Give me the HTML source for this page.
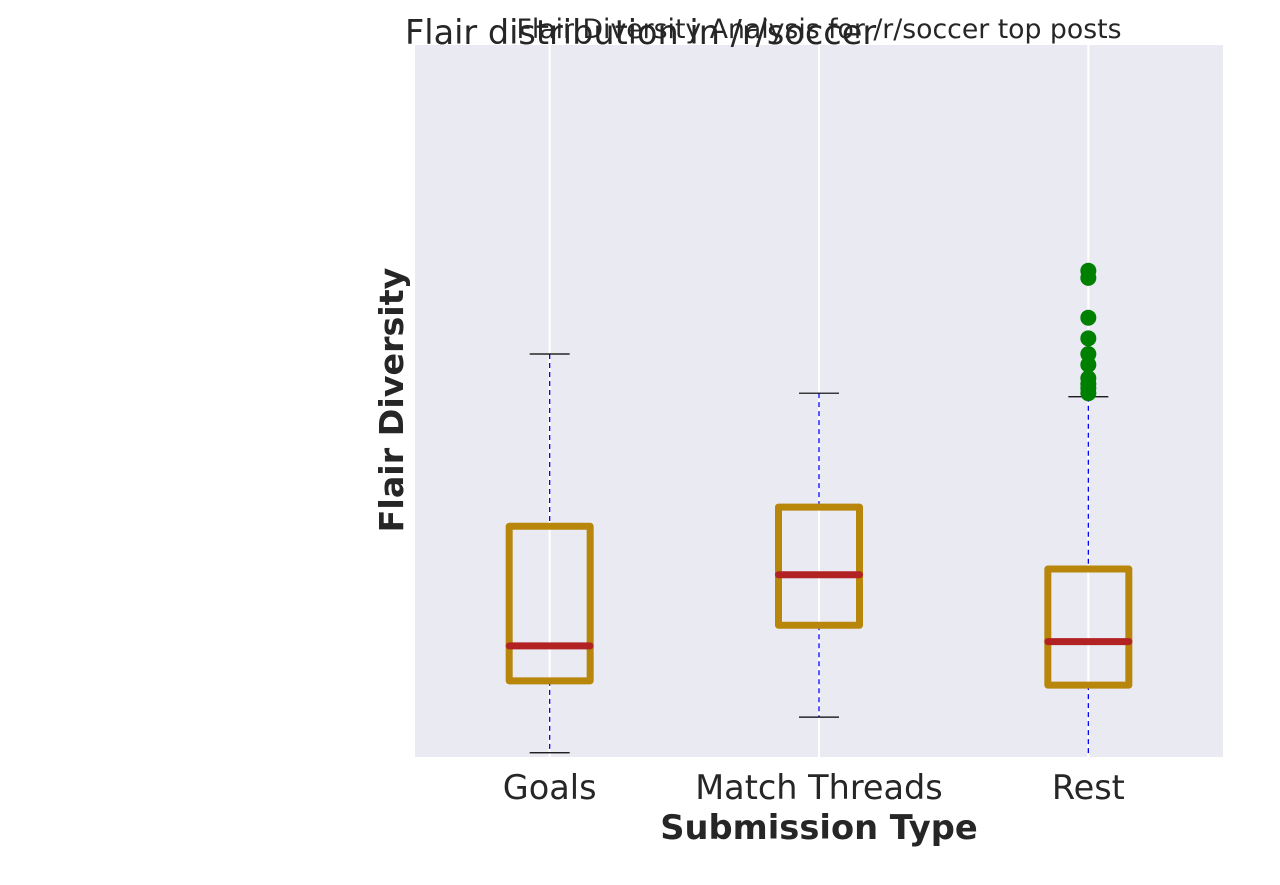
<!DOCTYPE html>
<html><head><meta charset="utf-8"><style>
html,body{margin:0;padding:0;background:#fff;}
svg text{font-family:"DejaVu Sans","Liberation Sans",sans-serif;fill:#262626;}
</style></head><body>
<svg id="chart" width="1280" height="880" xmlns="http://www.w3.org/2000/svg">
<rect x="415" y="45" width="808" height="712" fill="#eaeaf2"/>
<g id="grid"></g><g id="boxes"></g>
<text x="405" y="44" font-size="33.5">Flair distribution in /r/soccer</text>
<text x="819" y="38" font-size="26.7" text-anchor="middle">Flair Diversity Analysis for /r/soccer top posts</text>
<text x="819" y="839" font-size="33.7" font-weight="bold" text-anchor="middle">Submission Type</text>
<text transform="translate(403,400) rotate(-90)" font-size="33.3" font-weight="bold" text-anchor="middle">Flair Diversity</text>
<g id="ticks"></g>
</svg>
<script>
const categories=["Goals","Match Threads","Rest"];
const whiskerHigh=[5.66,5.11,5.06];
const q3=[3.24,3.51,2.64];
const medians=[1.56,2.56,1.62];
const q1=[1.07,1.85,1.01];
const whiskerLow=[0.06,0.56,-0.2];
const outliers=[[],[],[6.83,6.73,6.17,5.88,5.66,5.51,5.32,5.24,5.18,5.11]];
const NS="http://www.w3.org/2000/svg";
const x0=415,x1=1223,y0=45,y1=757,ymin=0,ymax=10;
const xs=i=>x0+(x1-x0)*(i+0.5)/categories.length;
const ys=v=>y1-(v-ymin)/(ymax-ymin)*(y1-y0);
function mk(t,a,p){const e=document.createElementNS(NS,t);for(const k in a)e.setAttribute(k,a[k]);p.appendChild(e);return e;}
const grid=document.getElementById('grid'),boxes=document.getElementById('boxes'),ticks=document.getElementById('ticks');
const clipY=v=>Math.min(y1,ys(v));
categories.forEach((c,i)=>{
 const x=xs(i);
 const g=mk('line',{x1:x,x2:x,y1:y0,y2:y1,stroke:'#fff','stroke-width':2},grid);
 
 
 const w1=mk('line',{x1:x,x2:x,y1:ys(whiskerHigh[i]),y2:ys(q3[i]),stroke:'#0000ff','stroke-width':1.3,'stroke-dasharray':'5,4'},boxes);
 
 
 const w2=mk('line',{x1:x,x2:x,y1:ys(q1[i]),y2:clipY(whiskerLow[i]),stroke:'#0000ff','stroke-width':1.3,'stroke-dasharray':'5,4'},boxes);
 
 
 const c1=mk('line',{x1:x-20,x2:x+20,y1:ys(whiskerHigh[i]),y2:ys(whiskerHigh[i]),stroke:'#000','stroke-width':1.2},boxes);
 
 
 if(ys(whiskerLow[i])<=y1){
  const c2=mk('line',{x1:x-20,x2:x+20,y1:ys(whiskerLow[i]),y2:ys(whiskerLow[i]),stroke:'#000','stroke-width':1.2},boxes);
  
  
 }
 const b=mk('rect',{x:x-40.5,y:ys(q3[i]),width:81,height:ys(q1[i])-ys(q3[i]),fill:'none',stroke:'#b8860b','stroke-width':7,'stroke-linejoin':'round'},boxes);
 
 
 const m=mk('line',{x1:x-40.5,x2:x+40.5,y1:ys(medians[i]),y2:ys(medians[i]),stroke:'#b22222','stroke-width':7,'stroke-linecap':'round'},boxes);
 
 
 outliers[i].forEach(v=>{
  const o=mk('circle',{cx:x,cy:ys(v),r:8,fill:'#008000'},boxes);
  
  
 });
 const t=mk('text',{x:x,y:799,'font-size':33.5,'text-anchor':'middle'},ticks);
 t.textContent=c;
 
 
});
</script>
</body></html>
